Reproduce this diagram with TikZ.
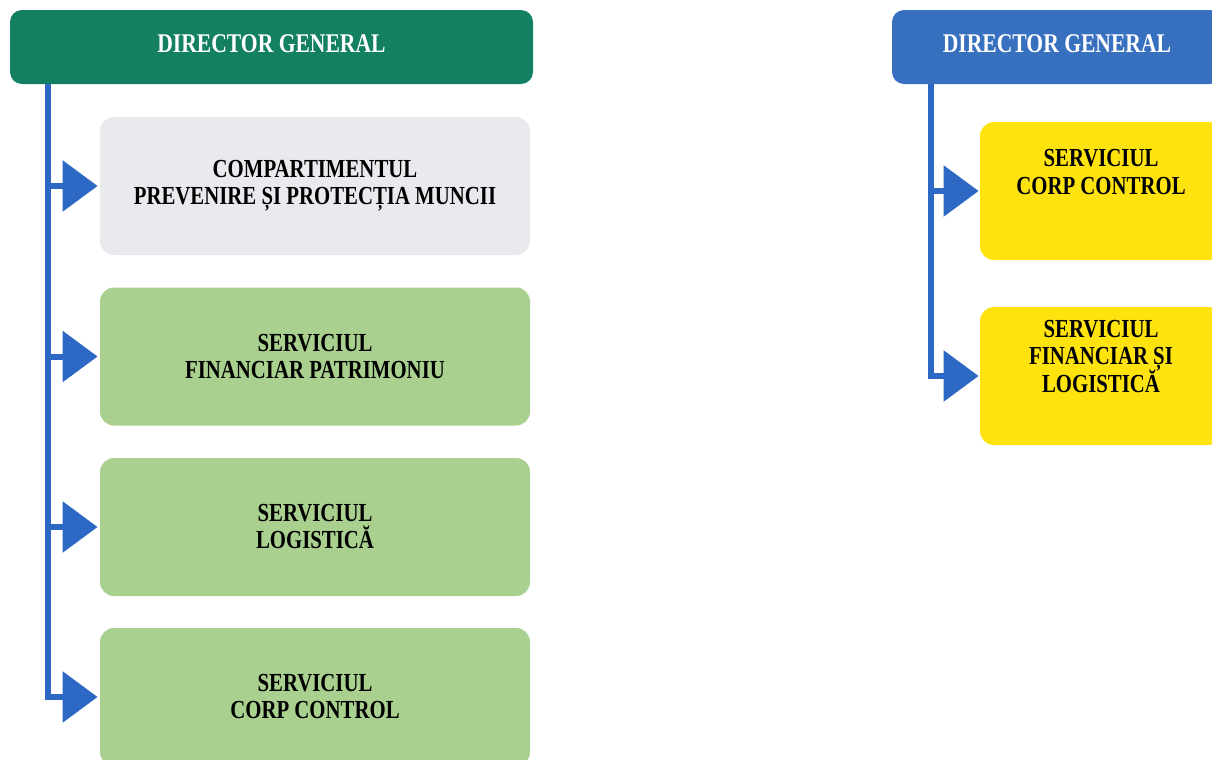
\documentclass[tikz,border=0pt]{standalone}
\usepackage{fontspec}
\newfontfamily\orgfont[FakeStretch=0.8]{Liberation Serif}
\usetikzlibrary{arrows.meta}
\definecolor{headgreen}{HTML}{138062}
\definecolor{headblue}{HTML}{3870C0}
\definecolor{trunkblue}{HTML}{2C68C4}
\definecolor{unitgray}{HTML}{E9EAEE}
\definecolor{unitgreen}{HTML}{A9D08E}
\definecolor{unityellow}{HTML}{FFE30F}
\tikzset{
    head/.style={rounded corners=6pt, minimum height=37pt, text=white, text depth=3pt,
        font=\orgfont\bfseries\fontsize{13.5}{14}\selectfont},
    unit/.style={rounded corners=7pt, minimum width=215pt, minimum height=69pt,
        align=center, font=\orgfont\bfseries\fontsize{13}{13.5}\selectfont\setlength{\lineskiplimit}{-6pt}},
    side/.style={rounded corners=7pt, minimum width=121pt, minimum height=69pt,
        align=center, fill=unityellow,
        font=\orgfont\bfseries\fontsize{13}{13.8}\selectfont\setlength{\lineskiplimit}{-6pt}},
    branch/.style={draw=trunkblue, line width=3pt, shorten >=1pt,
        -{Triangle[length=17.5pt, width=25pt]}}
}

\begin{document}
\begin{tikzpicture}[x=0.5pt, y=-0.5pt]
                        \useasboundingbox (0, 0) rectangle (1212, 760);
                        \clip (0, 0) rectangle (1212, 760);

                        \node[head, fill=headgreen, minimum width=261.5pt] (dg1) at (271.5, 47) {DIRECTOR GENERAL};
                        \node[unit, fill=unitgray] (p1) at (315, 186) {COMPARTIMENTUL\\PREVENIRE ȘI PROTECȚIA MUNCII};
                        \node[unit, fill=unitgreen] (p2) at (315, 356.5) {SERVICIUL\\FINANCIAR PATRIMONIU};
                        \node[unit, fill=unitgreen] (p3) at (315, 527) {SERVICIUL\\LOGISTICĂ};
                        \node[unit, fill=unitgreen] (p4) at (315, 697) {SERVICIUL\\CORP CONTROL};
                        \coordinate (k1) at (48, 84);

                        % text sits high in the yellow boxes
                        \node[head, fill=headblue, minimum width=165pt] (dg2) at (1057, 47) {DIRECTOR GENERAL};
                        \node[side] (s1) at (1101, 191) {SERVICIUL\\CORP CONTROL\rule[-19pt]{0pt}{19pt}};
                        \node[side] (s2) at (1101, 376) {SERVICIUL\\FINANCIAR ȘI\\LOGISTICĂ\rule[-20pt]{0pt}{20pt}};
                        \coordinate (k2) at (931, 84);

                        \draw[branch] (k1 |- p1) -- (p1);
                        \draw[branch] (k1 |- p2) -- (p2);
                        \draw[branch] (k1 |- p3) -- (p3);
                        \draw[branch] (k1) |- (p4);

                        \draw[branch, shorten >=0.5pt] (k2 |- s1) -- (s1);
                        \draw[branch, shorten >=0.5pt] (k2) |- (s2);
                    \end{tikzpicture}
\end{document}
